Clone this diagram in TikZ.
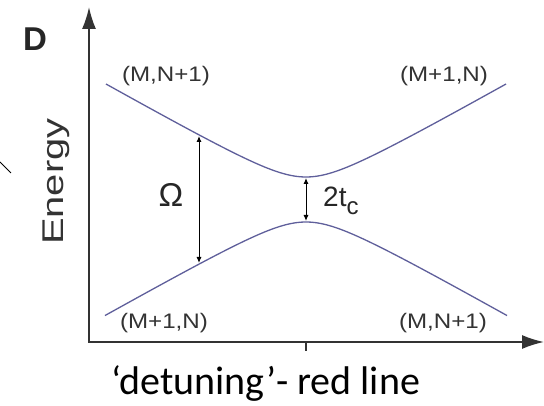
\documentclass[tikz,border=0pt]{standalone}
\usepackage{fontspec}
\setmainfont{Liberation Sans}
\newfontfamily\calib{Carlito}
\usetikzlibrary{arrows.meta}
\begin{document}
\begin{tikzpicture}[x=1pt,y=-1pt,
  axis/.style={line width=1.8pt, draw=black!80, {Latex[length=22pt,width=14pt]}-{Latex[length=22pt,width=14pt]}},
  curve/.style={line width=1.3pt, draw={rgb,255:red,95;green,95;blue,155}},
  gap/.style={line width=1pt, {Latex[length=6pt,width=5pt]}-{Latex[length=6pt,width=5pt]}},
  lbl/.style={inner sep=0pt, text=black!80, font=\fontsize{21}{21}\selectfont, anchor=base},
  tick/.style={line width=1.2pt, draw=black!80}
]
\useasboundingbox (0,0) rectangle (544,406);
% axes
\coordinate (ytip) at (89,7);
\coordinate (O) at (89,342);
\coordinate (xtip) at (544,342);
\draw[axis] (ytip) -- (O) -- (xtip);
\coordinate (t0) at (306,342);
\coordinate (t1) at (306,351);
\draw[tick] (t0) -- (t1);
% stray fragment line
\coordinate (s0) at (0,162);
\coordinate (s1) at (11,173);
\draw[line width=1pt] (s0) -- (s1);
% curves
\draw[curve] plot[domain=106:506, samples=120] (\x, {199.5 - sqrt(0.3208*(\x-306)*(\x-306)+506)});
\draw[curve] plot[domain=105:507, samples=120] (\x, {199.5 + sqrt(0.3208*(\x-306)*(\x-306)+506)});
% gap arrows
\coordinate (oa) at (199,136);
\coordinate (ob) at (199,263);
\draw[gap] (oa) -- (ob);
\coordinate (ta) at (306,178);
\coordinate (tb) at (306,221);
\draw[gap] (ta) -- (tb);
% labels
\node[inner sep=0pt, anchor=base west, font=\bfseries\fontsize{33}{33}\selectfont, text=black!85] (D) at (23,51) {D};
\node[inner sep=0pt, anchor=base west, rotate=90, font=\fontsize{30}{30}\selectfont, text=black!80] (en) at (63,245) {\scalebox{1.33}[1]{Energy}};
\node[lbl] (ul) at (166,82) {\scalebox{1.15}[1]{(M,N+1)}};
\node[lbl] (ur) at (444,82) {\scalebox{1.15}[1]{(M+1,N)}};
\node[lbl] (ll) at (164,329) {\scalebox{1.15}[1]{(M+1,N)}};
\node[lbl] (lr) at (443,329) {\scalebox{1.15}[1]{(M,N+1)}};
\node[inner sep=0pt, anchor=base, font=\fontsize{33}{33}\selectfont, text=black!85] (om) at (171,207) {Ω};
\node[inner sep=0pt, anchor=base west, font=\fontsize{28}{28}\selectfont, text=black!85] (tc) at (323,207) {2t\raisebox{-8pt}{\fontsize{24}{24}\selectfont c}};
\node[inner sep=0pt, anchor=base west, font=\calib\fontsize{40}{40}\selectfont] (det) at (111,395) {‘detuning’- red line};
\end{tikzpicture}
\end{document}
